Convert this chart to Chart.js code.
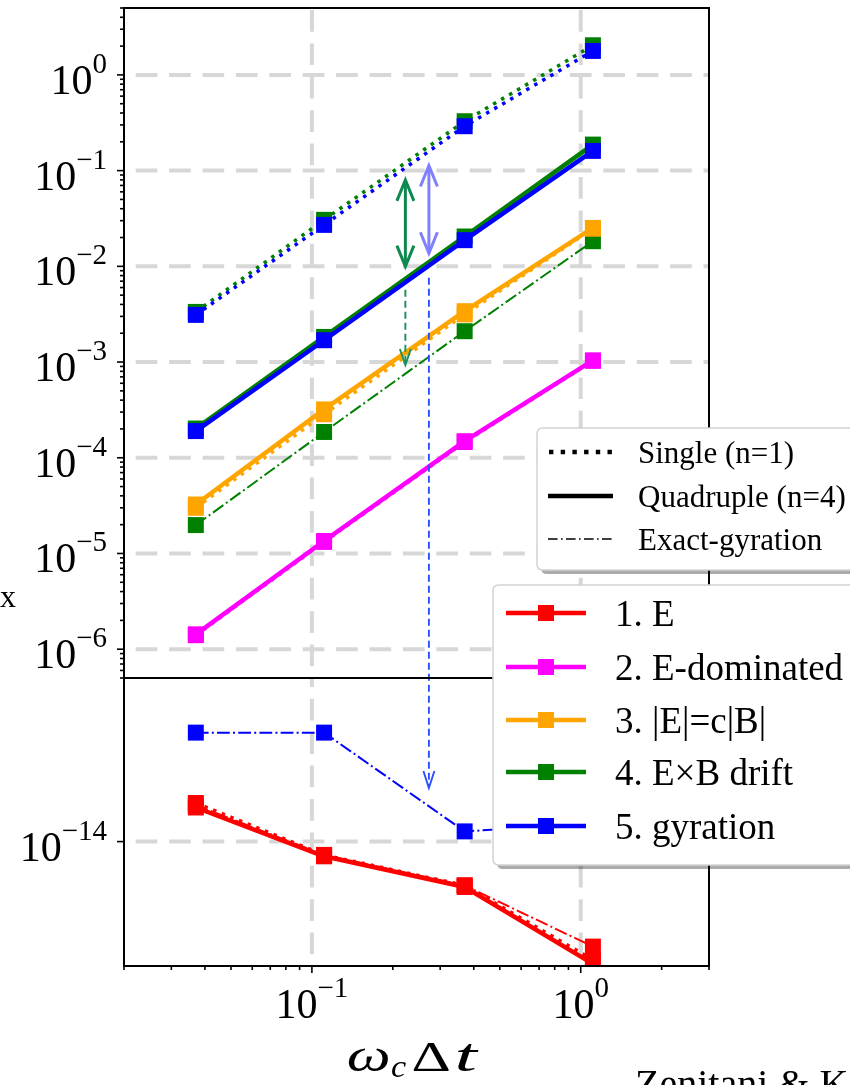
<!DOCTYPE html>
<html>
<head>
<meta charset="utf-8">
<title>Boris solver errors</title>
<script src="https://cdn.jsdelivr.net/npm/chart.js@4.4.1/dist/chart.umd.min.js"></script>
<style>
html, body { margin:0; padding:0; background:#ffffff; overflow:hidden; }
#wrap { position:relative; width:850px; height:1085px; }
#chart { display:block; }
</style>
</head>
<body>
<div id="wrap"><canvas id="chart" width="850" height="1085"></canvas></div>
<script>
// ---------------- data ----------------
const omegaDt = [0.037, 0.111, 0.37, 1.11];          // x values (ω_c Δt)

// 1. E  (lower panel)
const E_single = [1.16e-14, 9.5e-15, 8.45e-15, 6.35e-15];
const E_quad   = [1.14e-14, 9.45e-15, 8.4e-15, 6.25e-15];
const E_exact  = [1.15e-14, 9.5e-15, 8.45e-15, 6.68e-15];
// 2. E-dominated
const Edom_single = [1.40e-6, 1.32e-5, 1.46e-4, 1.03e-3];
const Edom_quad   = [1.43e-6, 1.35e-5, 1.49e-4, 1.04e-3];
// 3. |E|=c|B|
const EcB_single = [3.0e-5, 2.85e-4, 3.15e-3, 2.47e-2];
const EcB_quad   = [3.25e-5, 3.2e-4, 3.4e-3, 2.52e-2];
// 4. E×B drift
const ExB_single = [3.34e-3, 3.06e-2, 0.328, 2.04];
const ExB_quad   = [2.02e-4, 1.83e-3, 2.05e-2, 0.187];
const ExB_exact  = [1.98e-5, 1.86e-4, 2.1e-3, 1.83e-2];
// 5. gyration
const gyr_single = [3.11e-3, 2.71e-2, 0.291, 1.78];
const gyr_quad   = [1.9e-4, 1.69e-3, 1.876e-2, 0.1607];
const gyr_exact  = [1.52e-14, 1.52e-14, 1.04e-14, 1.07e-14];

const caseLabels   = ['1. E', '2. E-dominated', '3. |E|=c|B|', '4. E\u00d7B drift', '5. gyration'];
const caseColors   = ['#ff0000', '#ff00ff', '#ffa500', '#008000', '#0000ff'];
const methodLabels = ['Single (n=1)', 'Quadruple (n=4)', 'Exact-gyration'];

const xTickExponents       = [-1, 0];
const yTopTickExponents    = [0, -1, -2, -3, -4, -5, -6];
const yBottomTickExponents = [-14];
const xRange       = [0.02, 3];
const yTopRange    = [5e-7, 5];
const yBottomRange = [6.2e-15, 1.875e-14];

// annotation arrows (data coordinates)
const arrowGreenX = 0.2227, arrowBlueX = 0.2724;
const greenDouble = [0.080, 9.94e-3];
const blueDouble  = [0.113, 0.0137];
const greenDashed = [5.7e-3, 9.3e-4];
const blueDashedTop = 7.6e-3, blueDashedBottom = 1.229e-14;

// ---------------- layout & styles ----------------
const AREA = { left: 124, top: 8, right: 709, bottom: 966 };
const TOP_PANEL_H = 670;
const FONT = '"Liberation Serif", "Times New Roman", serif';
const TICK_FS = 42, SUP_FS = 29, SUP_RISE = 21;
const styles = {
  single: { width: 3.5, dash: [3.5, 5.8] },
  quad:   { width: 4.5, dash: [] },
  exact:  { width: 2,   dash: [12.8, 3.2, 2, 3.2] }
};

function ds(label, values, color, style, axis) {
  const st = styles[style];
  return {
    label, yAxisID: axis, xAxisID: 'x',
    data: omegaDt.map((x, i) => ({ x, y: values[i] })),
    borderColor: color, backgroundColor: color,
    borderWidth: st.width, borderDash: st.dash,
    borderCapStyle: 'butt', borderJoinStyle: 'round',
    pointStyle: 'rect', pointRadius: 11.3, pointHoverRadius: 11.3,
    pointBorderWidth: 0, pointBackgroundColor: color,
    tension: 0, fill: false
  };
}

// drawing sequence: exact-gyration, then single, then quadruple
const seq = [
  ds('1. E exact', E_exact, caseColors[0], 'exact', 'yBot'),
  ds('4. ExB exact', ExB_exact, caseColors[3], 'exact', 'yTop'),
  ds('5. gyration exact', gyr_exact, caseColors[4], 'exact', 'yBot'),
  ds('1. E single', E_single, caseColors[0], 'single', 'yBot'),
  ds('2. Edom single', Edom_single, caseColors[1], 'single', 'yTop'),
  ds('3. EcB single', EcB_single, caseColors[2], 'single', 'yTop'),
  ds('4. ExB single', ExB_single, caseColors[3], 'single', 'yTop'),
  ds('5. gyration single', gyr_single, caseColors[4], 'single', 'yTop'),
  ds('1. E quad', E_quad, caseColors[0], 'quad', 'yBot'),
  ds('2. Edom quad', Edom_quad, caseColors[1], 'quad', 'yTop'),
  ds('3. EcB quad', EcB_quad, caseColors[2], 'quad', 'yTop'),
  ds('4. ExB quad', ExB_quad, caseColors[3], 'quad', 'yTop'),
  ds('5. gyration quad', gyr_quad, caseColors[4], 'quad', 'yTop')
];
seq.forEach((d, i) => { d.order = seq.length - i; });

// ---------------- helpers ----------------
function line(ctx, x1, y1, x2, y2) { ctx.beginPath(); ctx.moveTo(x1, y1); ctx.lineTo(x2, y2); ctx.stroke(); }
function supText(exp) { return exp < 0 ? '\u2212' + (-exp) : String(exp); }
function drawPow(ctx, exp, anchorX, baseline, align) {
  const main = '10', sup = supText(exp);
  ctx.font = TICK_FS + 'px ' + FONT; const w1 = ctx.measureText(main).width;
  ctx.font = SUP_FS + 'px ' + FONT; const w2 = ctx.measureText(sup).width;
  const total = w1 + w2;
  const x0 = align === 'right' ? anchorX - total : anchorX - total / 2;
  ctx.textAlign = 'left'; ctx.textBaseline = 'alphabetic'; ctx.fillStyle = '#000';
  ctx.font = TICK_FS + 'px ' + FONT; ctx.fillText(main, x0, baseline);
  ctx.font = SUP_FS + 'px ' + FONT; ctx.fillText(sup, x0 + w1, baseline - SUP_RISE);
}
// draws a glyph stretched horizontally so its ink spans [x0, x0+targetW]
function fitGlyph(ctx, ch, font, x0, baseline, targetW) {
  ctx.font = font;
  const m = ctx.measureText(ch);
  const ink = m.actualBoundingBoxLeft + m.actualBoundingBoxRight;
  const sx = ink > 0 ? targetW / ink : 1;
  ctx.save();
  ctx.translate(x0, baseline); ctx.scale(sx, 1);
  ctx.fillText(ch, m.actualBoundingBoxLeft, 0);
  ctx.restore();
}
function vHead(ctx, x, y, dir, len, half) {
  ctx.beginPath(); ctx.moveTo(x - half, y - dir * len); ctx.lineTo(x, y); ctx.lineTo(x + half, y - dir * len); ctx.stroke();
}
function rrect(ctx, x, y, w, h, r) {
  ctx.beginPath();
  ctx.moveTo(x + r, y); ctx.lineTo(x + w - r, y); ctx.quadraticCurveTo(x + w, y, x + w, y + r);
  ctx.lineTo(x + w, y + h - r); ctx.quadraticCurveTo(x + w, y + h, x + w - r, y + h);
  ctx.lineTo(x + r, y + h); ctx.quadraticCurveTo(x, y + h, x, y + h - r);
  ctx.lineTo(x, y + r); ctx.quadraticCurveTo(x, y, x + r, y); ctx.closePath();
}
function legendBox(ctx, x, y, w, h) {
  ctx.save();
  ctx.fillStyle = 'rgba(0,0,0,0.33)'; rrect(ctx, x + 4, y + 4, w, h, 6); ctx.fill();
  ctx.fillStyle = '#ffffff'; rrect(ctx, x, y, w, h, 6); ctx.fill();
  ctx.strokeStyle = '#d2d2d2'; ctx.lineWidth = 1.5; ctx.stroke();
  ctx.restore();
}

const mplPlugin = {
  id: 'mpl',
  afterLayout(chart) {
    const a = chart.chartArea;
    Object.assign(a, AREA, { width: AREA.right - AREA.left, height: AREA.bottom - AREA.top });
    const { x, yTop, yBot } = chart.scales;
    const split = AREA.top + TOP_PANEL_H;
    Object.assign(x, { left: AREA.left, right: AREA.right, width: AREA.right - AREA.left, top: AREA.bottom, bottom: AREA.bottom, min: xRange[0], max: xRange[1] });
    Object.assign(yTop, { top: AREA.top, bottom: split, height: split - AREA.top, left: AREA.left, right: AREA.left, min: yTopRange[0], max: yTopRange[1] });
    Object.assign(yBot, { top: split, bottom: AREA.bottom, height: AREA.bottom - split, left: AREA.left, right: AREA.left, min: yBottomRange[0], max: yBottomRange[1] });
    x.configure(); yTop.configure(); yBot.configure();
  },
  beforeDatasetsDraw(chart) {
    const ctx = chart.ctx, a = chart.chartArea;
    const { x, yTop, yBot } = chart.scales;
    ctx.save();
    ctx.strokeStyle = '#d7d7d7'; ctx.lineWidth = 4;
    ctx.setLineDash([21.7, 11.7]); ctx.lineDashOffset = 21.7;
    yTopTickExponents.forEach(e => { const p = yTop.getPixelForValue(Math.pow(10, e)); line(ctx, a.left, p, a.right, p); });
    yBottomTickExponents.forEach(e => { const p = yBot.getPixelForValue(Math.pow(10, e)); line(ctx, a.left, p, a.right, p); });
    xTickExponents.forEach(e => {
      const p = x.getPixelForValue(Math.pow(10, e));
      line(ctx, p, yTop.bottom, p, yTop.top);
      line(ctx, p, yBot.bottom, p, yBot.top);
    });
    ctx.restore();
  },
  afterDatasetsDraw(chart) {
    const ctx = chart.ctx, a = chart.chartArea;
    const { x, yTop, yBot } = chart.scales;
    ctx.save();
    // ---- annotation arrows ----
    ctx.lineJoin = 'miter'; ctx.lineCap = 'butt';
    const gx = x.getPixelForValue(arrowGreenX), bx = x.getPixelForValue(arrowBlueX);
    ctx.strokeStyle = '#8080ff'; ctx.lineWidth = 3;
    let t = yTop.getPixelForValue(blueDouble[0]), b = yTop.getPixelForValue(blueDouble[1]);
    line(ctx, bx, t + 1, bx, b - 1); vHead(ctx, bx, t, -1, 21, 8.5); vHead(ctx, bx, b, 1, 21, 8.5);
    ctx.strokeStyle = '#0e8a50';
    t = yTop.getPixelForValue(greenDouble[0]); b = yTop.getPixelForValue(greenDouble[1]);
    line(ctx, gx, t + 1, gx, b - 1); vHead(ctx, gx, t, -1, 21, 8.5); vHead(ctx, gx, b, 1, 21, 8.5);
    ctx.strokeStyle = '#16915a'; ctx.lineWidth = 1.9;
    t = yTop.getPixelForValue(greenDashed[0]); b = yTop.getPixelForValue(greenDashed[1]);
    ctx.setLineDash([7, 4]); line(ctx, gx, t, gx, b); ctx.setLineDash([]);
    vHead(ctx, gx, b, 1, 16, 5.5);
    ctx.strokeStyle = '#2a50ff'; ctx.lineWidth = 1.9;
    t = yTop.getPixelForValue(blueDashedTop); b = yBot.getPixelForValue(blueDashedBottom);
    ctx.setLineDash([7, 4]); line(ctx, bx, t, bx, b); ctx.setLineDash([]);
    vHead(ctx, bx, b, 1, 17, 5.5);

    // ---- frames ----
    ctx.strokeStyle = '#000'; ctx.lineWidth = 2; ctx.lineJoin = 'miter';
    ctx.strokeRect(a.left, yTop.top, a.right - a.left, yTop.bottom - yTop.top);
    ctx.strokeRect(a.left, yBot.top, a.right - a.left, yBot.bottom - yBot.top);

    // ---- tick marks ----
    ctx.lineWidth = 1.6;
    for (let k = -7; k <= 0; k++) {
      for (let m = 1; m <= 9; m++) {
        const v = m * Math.pow(10, k);
        if (v < yTopRange[0] || v > yTopRange[1]) continue;
        const p = yTop.getPixelForValue(v);
        line(ctx, a.left - (m === 1 ? 7 : 4), p, a.left, p);
      }
    }
    yBottomTickExponents.forEach(e => { const p = yBot.getPixelForValue(Math.pow(10, e)); line(ctx, a.left - 7, p, a.left, p); });
    for (let k = -2; k <= 0; k++) {
      for (let m = 1; m <= 9; m++) {
        const v = m * Math.pow(10, k);
        if (v < xRange[0] * 0.999 || v > xRange[1] * 1.001) continue;
        const p = x.getPixelForValue(v);
        line(ctx, p, a.bottom, p, a.bottom + (m === 1 ? 7 : 4));
      }
    }

    // ---- tick labels ----
    yTopTickExponents.forEach(e => drawPow(ctx, e, a.left - 17, yTop.getPixelForValue(Math.pow(10, e)) + 19, 'right'));
    yBottomTickExponents.forEach(e => drawPow(ctx, e, a.left - 17, yBot.getPixelForValue(Math.pow(10, e)) + 19, 'right'));
    xTickExponents.forEach(e => drawPow(ctx, e, x.getPixelForValue(Math.pow(10, e)), a.bottom + 52, 'center'));

    // ---- axis label ω_c Δt ----
    ctx.fillStyle = '#000'; ctx.textAlign = 'left'; ctx.textBaseline = 'alphabetic';
    const lb = 1071;
    fitGlyph(ctx, '\u03c9', 'italic 47px ' + FONT, 348, lb, 41);
    fitGlyph(ctx, 'c', 'italic 32px ' + FONT, 391, lb + 6, 15);
    fitGlyph(ctx, '\u0394', '43px ' + FONT, 413, lb, 37);
    fitGlyph(ctx, 't', 'italic 46px ' + FONT, 458, lb, 21);

    // partial y-label fragment and credit text (cropped in the figure)
    ctx.font = '32px ' + FONT; ctx.fillText('x', 0, 607);
    ctx.font = '40px ' + FONT; ctx.fillText('Zenitani & Kato', 635, 1097);

    // ---- legend 1 (line styles) ----
    legendBox(ctx, 537, 428, 340, 142);
    const l1y = [452, 496, 539];
    ctx.strokeStyle = '#000'; ctx.lineCap = 'butt';
    ctx.lineWidth = 4.4; ctx.setLineDash([4.4, 7.3]); line(ctx, 549, l1y[0], 613, l1y[0]);
    ctx.setLineDash([]); ctx.lineWidth = 4.3; line(ctx, 548, l1y[1], 613, l1y[1]);
    ctx.lineWidth = 1.5; ctx.setLineDash([9.6, 3.4, 1.6, 3.4]); line(ctx, 548, l1y[2], 613, l1y[2]);
    ctx.setLineDash([]);
    ctx.font = '31px ' + FONT; ctx.fillStyle = '#000';
    methodLabels.forEach((s, i) => ctx.fillText(s, 638, l1y[i] + 10.5));

    // ---- legend 2 (cases) ----
    legendBox(ctx, 493, 585, 380, 280);
    const l2y = [613, 667, 720, 772, 826];
    caseLabels.forEach((s, i) => {
      ctx.strokeStyle = caseColors[i]; ctx.fillStyle = caseColors[i]; ctx.lineWidth = 4.5;
      line(ctx, 506, l2y[i], 586, l2y[i]);
      ctx.fillRect(538, l2y[i] - 8, 16, 16);
      ctx.fillStyle = '#000'; ctx.font = '37px ' + FONT;
      ctx.fillText(s, 615, l2y[i] + 12.5);
    });
    ctx.restore();
  }
};

new Chart(document.getElementById('chart'), {
  type: 'line',
  data: { datasets: seq },
  options: {
    responsive: false, devicePixelRatio: 1, animation: false,
    layout: { padding: { left: 124, right: 141, top: 8, bottom: 119 } },
    plugins: { legend: { display: false }, tooltip: { enabled: false } },
    events: [],
    scales: {
      x: { type: 'logarithmic', bounds: 'data', min: xRange[0], max: xRange[1], display: false },
      yBot: { type: 'logarithmic', bounds: 'data', position: 'left', min: yBottomRange[0], max: yBottomRange[1], stack: 'panels', stackWeight: 288, display: false },
      yTop: { type: 'logarithmic', bounds: 'data', position: 'left', min: yTopRange[0], max: yTopRange[1], stack: 'panels', stackWeight: 670, display: false }
    }
  },
  plugins: [mplPlugin]
});
</script>
</body>
</html>
